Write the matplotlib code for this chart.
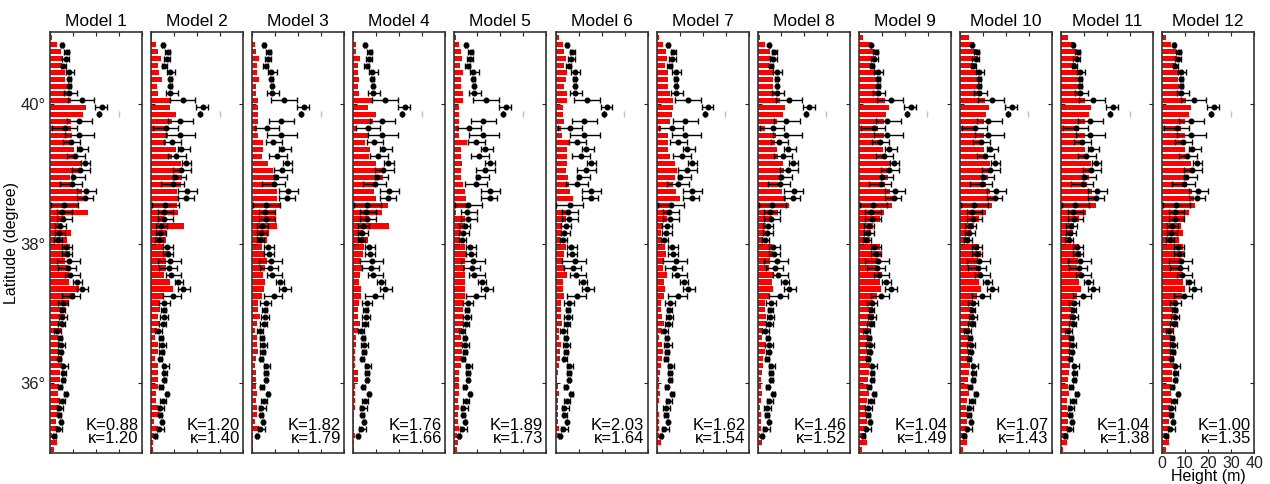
import numpy as np
import matplotlib.pyplot as plt

plt.rcParams['font.family'] = ['Liberation Sans', 'DejaVu Sans']

# latitude bin centres, north to south (0.1 degree bins)
lat = np.round(np.arange(40.95, 35.0, -0.1), 2)

nan = np.nan
# observed runup heights per bin: mean and error bar extents (m)
obs_mean = [nan, 5.1, 7.3, 6.8, 5.8, 8.3, 8.3, 8.4, 8.4, 13.8,
            22.5, 21.1, 12.4, 6.5, 12.4, 9.2, 13.1, 10.9, 15.3, 13.1,
            10.2, 9.5, 15.6, 15.3, 6.1, 5.4, 5.8, 4.4, 3.9, 3.3,
            6.8, 7.3, 8.3, 7.7, 8.7, 11.9, 13.8, 9.5, 5.8, 5.4,
            5.4, 5.1, 3.2, 4.4, 4.7, 4.7, 3.9, 5.8, 5.8, 5.8,
            4.4, 6.8, 5.1, 3.9, 3.9, 4.8, 3.3, 1.9, nan, nan]
obs_lo = [nan, 4.7, 6.1, 5.4, 4.7, 6.8, 7.7, 8.0, 6.3, 8.0,
          19.6, 21.1, 7.3, 1.0, 6.5, 5.8, 11.6, 7.3, 13.5, 9.5,
          9.5, 4.4, 11.6, 11.6, 0.4, 2.9, 2.9, 2.2, 2.2, 1.9,
          5.1, 5.1, 2.9, 3.6, 6.5, 10.2, 11.6, 5.1, 3.6, 4.4,
          3.9, 3.6, 1.9, 3.6, 3.3, 3.6, 3.3, 5.1, 5.1, 5.4,
          3.6, 6.3, 3.9, 2.9, 3.3, 4.4, 2.5, 1.5, nan, nan]
obs_hi = [nan, 5.5, 8.3, 8.3, 6.8, 10.6, 9.0, 9.0, 11.6, 19.3,
          24.7, 21.1, 18.2, 11.6, 19.3, 13.1, 16.7, 15.0, 17.5, 17.5,
          15.0, 14.1, 19.9, 18.5, 12.1, 9.7, 9.7, 6.8, 6.5, 5.1,
          9.5, 9.5, 13.1, 11.2, 13.1, 13.8, 16.7, 13.1, 8.0, 6.5,
          7.3, 6.5, 4.8, 5.1, 6.5, 5.4, 4.8, 7.7, 6.8, 6.5,
          5.1, 7.4, 6.5, 5.8, 4.8, 5.1, 5.4, 2.5, nan, nan]
# single extreme value shown as a grey tick
obs_max_lat = [39.85]
obs_max = [29.8]

models = ['Model %d' % i for i in range(1, 13)]
K_vals = ['0.88', '1.20', '1.82', '1.76', '1.89', '2.03',
          '1.62', '1.46', '1.04', '1.07', '1.04', '1.00']
kappa_vals = ['1.20', '1.40', '1.79', '1.66', '1.73', '1.64',
              '1.54', '1.52', '1.49', '1.43', '1.38', '1.35']

# simulated heights per bin for each model (m)
m1 = [1.0, 2.9, 4.8, 5.8, 5.4, 6.5, 6.5, 8.0, 8.0, 9.2,
      15.6, 14.5, 9.2, 9.2, 9.5, 10.2, 10.5, 10.9, 13.8, 13.8,
      8.7, 10.2, 13.8, 14.5, 12.2, 16.7, 6.5, 5.1, 9.2, 7.3,
      8.7, 8.7, 6.5, 8.0, 8.4, 8.4, 12.4, 11.0, 8.4, 6.5,
      6.5, 5.8, 4.8, 3.6, 4.4, 4.4, 5.1, 5.1, 4.4, 4.4,
      3.9, 3.6, 4.4, 3.9, 3.6, 2.5, 3.6, 1.0, 3.2, 1.9]
m2 = [0.4, 2.3, 2.8, 4.1, 3.1, 3.6, 4.8, 2.6, 3.1, 8.4,
      8.4, 10.9, 9.2, 6.3, 7.4, 6.5, 10.9, 9.2, 12.8, 12.8,
      13.5, 12.8, 11.3, 12.1, 11.2, 11.8, 5.8, 14.3, 6.5, 6.5,
      5.8, 8.0, 6.5, 6.5, 5.8, 8.0, 9.4, 5.4, 3.6, 3.9,
      2.9, 3.9, 2.6, 1.9, 2.9, 2.9, 1.9, 2.9, 2.9, 2.9,
      2.9, 2.2, 2.2, 2.9, 3.6, 1.4, 2.9, 1.4, 1.0, 1.0]
m3 = [0.1, 1.2, 1.5, 3.1, 2.2, 2.2, 3.1, 1.5, 1.6, 2.6,
      2.6, 2.6, 2.6, 1.9, 2.6, 4.5, 4.8, 4.1, 7.0, 9.2,
      11.8, 9.2, 10.6, 10.6, 12.1, 9.9, 9.9, 10.6, 7.4, 6.3,
      4.1, 5.5, 6.3, 5.5, 4.8, 5.5, 5.1, 4.1, 2.6, 2.6,
      3.3, 1.9, 1.2, 1.9, 1.9, 2.6, 1.6, 1.2, 1.5, 1.5,
      1.6, 2.2, 1.5, 1.9, 1.9, 1.2, 3.1, 0.4, 0.4, 0.4]
m4 = [0.4, 1.2, 1.2, 3.1, 1.9, 2.2, 2.6, 2.2, 2.6, 8.0,
      6.5, 9.9, 8.4, 1.6, 6.3, 5.1, 7.4, 7.0, 9.9, 12.1,
      12.8, 9.2, 9.2, 9.9, 15.3, 12.4, 7.0, 15.7, 4.1, 6.5,
      4.8, 4.1, 3.1, 4.1, 3.1, 2.6, 3.3, 3.3, 2.6, 1.9,
      2.2, 3.1, 1.9, 1.2, 1.2, 0.7, 0.7, 0.7, 2.2, 2.2,
      0.7, 0.7, 0.7, 0.7, 0.4, 0.4, 0.4, 0.7, 0.1, 0.1]
m5 = [0.7, 1.9, 2.9, 3.3, 2.5, 3.6, 2.9, 2.9, 3.6, 3.6,
      1.9, 1.9, 2.2, 1.9, 1.9, 5.4, 2.9, 2.9, 3.3, 2.9,
      2.9, 3.6, 4.8, 5.1, 6.3, 0.5, 4.4, 4.4, 2.9, 2.2,
      4.4, 5.1, 4.8, 4.4, 4.4, 4.8, 4.4, 4.4, 3.9, 3.9,
      3.6, 3.6, 3.3, 2.9, 3.3, 3.3, 3.3, 2.9, 1.9, 1.9,
      1.9, 1.9, 1.5, 1.9, 1.5, 1.5, 1.9, 1.0, 1.5, 1.0]
m6 = [1.5, 3.3, 3.9, 4.4, 3.6, 4.8, 4.4, 3.9, 4.8, 4.8,
      3.3, 3.3, 3.6, 2.2, 2.9, 6.5, 4.8, 4.8, 4.8, 4.4,
      5.4, 5.8, 6.3, 7.7, 0.7, 4.8, 4.4, 2.9, 2.5, 1.9,
      4.4, 3.6, 3.3, 3.6, 4.8, 3.3, 3.3, 3.6, 2.2, 2.2,
      2.5, 2.9, 1.5, 1.5, 2.5, 1.9, 1.9, 1.5, 1.0, 0.7,
      1.0, 1.5, 1.0, 1.0, 1.0, 1.0, 1.5, 1.5, 0.4, 0.4]
m7 = [1.2, 2.6, 4.1, 4.5, 3.6, 5.1, 4.8, 4.8, 6.0, 7.0,
      7.0, 6.5, 6.0, 1.9, 4.8, 5.1, 5.1, 6.0, 8.0, 8.9,
      8.0, 7.0, 8.4, 10.3, 5.5, 4.8, 4.5, 2.6, 1.9, 1.9,
      3.6, 4.1, 3.1, 2.6, 4.5, 3.3, 3.6, 3.1, 1.9, 1.9,
      2.2, 3.3, 1.9, 1.2, 2.2, 2.6, 2.2, 1.9, 1.6, 1.2,
      1.2, 1.6, 1.2, 0.7, 1.2, 1.2, 1.2, 1.2, 1.9, 0.4]
m8 = [0.8, 3.0, 5.5, 6.0, 5.0, 7.0, 6.5, 6.5, 7.5, 9.5,
      12.0, 11.0, 8.5, 3.0, 8.0, 7.5, 8.5, 9.0, 11.0, 11.5,
      10.0, 9.0, 10.5, 12.5, 13.5, 9.0, 6.0, 3.5, 3.0, 2.5,
      6.0, 6.5, 5.5, 5.0, 7.0, 6.0, 6.5, 5.0, 3.0, 3.0,
      3.5, 4.0, 2.5, 2.0, 3.0, 3.0, 2.5, 2.5, 2.0, 1.5,
      1.5, 2.0, 1.5, 1.2, 1.5, 1.5, 1.5, 1.2, 2.0, 0.5]
m9 = [2.0, 5.0, 7.0, 7.5, 6.5, 8.0, 8.0, 8.5, 9.5, 11.5,
      13.0, 12.0, 11.0, 8.5, 11.0, 10.0, 10.5, 11.0, 13.5, 14.0,
      12.5, 11.5, 13.5, 15.0, 14.5, 11.0, 9.0, 6.0, 5.5, 5.0,
      9.0, 9.5, 8.5, 8.0, 10.0, 9.0, 9.5, 8.0, 6.0, 6.0,
      6.5, 7.0, 5.0, 4.5, 5.5, 5.5, 5.0, 5.0, 4.5, 4.0,
      4.0, 4.5, 3.5, 3.0, 3.5, 3.5, 3.5, 3.0, 3.5, 1.5]
m10 = [4.0, 6.0, 7.5, 8.0, 7.0, 8.5, 8.0, 8.5, 9.5, 11.0,
       12.5, 11.5, 10.5, 7.5, 10.5, 10.0, 10.5, 11.0, 13.0, 13.5,
       12.0, 11.5, 13.0, 14.5, 14.0, 11.5, 8.5, 6.0, 5.0, 4.5,
       8.5, 9.0, 8.0, 7.5, 9.5, 8.5, 9.0, 7.5, 5.5, 5.5,
       6.0, 6.5, 4.5, 4.0, 5.0, 5.0, 4.5, 4.5, 4.0, 3.5,
       3.5, 4.0, 3.0, 2.5, 3.0, 3.0, 3.0, 2.5, 3.0, 1.2]
m11 = [3.0, 5.5, 7.0, 7.5, 6.5, 8.0, 7.5, 8.0, 9.0, 10.5,
       13.0, 12.0, 10.5, 8.0, 10.5, 10.0, 10.5, 11.0, 13.0, 13.5,
       12.0, 11.5, 13.5, 14.5, 15.0, 11.0, 8.0, 5.5, 5.0, 4.5,
       8.0, 8.5, 7.5, 7.0, 9.0, 8.0, 8.5, 7.0, 5.0, 5.0,
       5.5, 6.0, 4.5, 4.0, 4.5, 4.5, 4.0, 4.0, 3.5, 3.0,
       3.0, 3.5, 2.5, 2.5, 3.0, 3.0, 3.0, 2.5, 2.5, 1.0]
m12 = [1.5, 4.0, 6.0, 6.5, 6.0, 7.0, 7.0, 7.5, 8.5, 10.5,
       12.5, 11.5, 10.0, 8.0, 10.0, 9.5, 10.0, 10.5, 12.5, 13.0,
       11.5, 11.0, 13.0, 14.0, 14.5, 11.5, 10.0, 8.0, 9.0, 7.5,
       9.0, 9.5, 8.0, 8.5, 9.0, 9.0, 10.0, 8.5, 6.5, 6.0,
       6.0, 6.5, 5.0, 4.5, 5.0, 5.0, 5.0, 5.0, 4.5, 4.5,
       4.0, 4.0, 4.0, 3.5, 3.5, 3.0, 3.5, 2.0, 3.0, 1.5]
model_heights = [m1, m2, m3, m4, m5, m6, m7, m8, m9, m10, m11, m12]

W, H = 1270, 484
fig = plt.figure(figsize=(W / 100, H / 100), dpi=100)

mean = np.array(obs_mean)
xerr = [mean - np.array(obs_lo), np.array(obs_hi) - mean]

for k, name in enumerate(models):
    left = 50 + 101.1 * k
    ax = fig.add_axes([left / W, 1 - 453 / H, 92 / W, 421 / H])
    ax.barh(lat, model_heights[k], height=0.075, color='#ff0000', lw=0, zorder=1)
    ax.errorbar(mean, lat, xerr=xerr, fmt='o', color='k', ms=3.3,
                elinewidth=1.0, capsize=2.0, capthick=1.0, zorder=3)
    ax.plot(obs_max, obs_max_lat, '|', color='0.75', ms=5, mew=1, zorder=2)

    ax.set_xlim(0, 40)
    ax.set_ylim(35.0, 41.03)
    ax.set_xticks([0, 10, 20, 30, 40])
    ax.set_yticks([36, 38, 40])
    ax.tick_params(direction='in', length=3, width=0.8, top=True, right=True,
                   labelsize=12, colors='#222222', pad=3)
    ax.tick_params(axis='x', labelsize=11.5, pad=2)
    for s in ax.spines.values():
        s.set_linewidth(1.2)
        s.set_color('#333333')
    if k == 0:
        ax.set_yticklabels(['36°', '38°', '40°'])
        ax.set_ylabel('Latitude (degree)', fontsize=11.5, labelpad=1)
    else:
        ax.set_yticklabels([])
    if k == 11:
        ax.set_xticklabels(['0', '10', '20', '30', '40'])
        ax.set_xlabel('Height (m)', fontsize=11.5, labelpad=-1)
    else:
        ax.set_xticklabels([])

    ax.set_title(name, fontsize=12.5, pad=4)
    ax.text(0.965, 0.055, 'K=' + K_vals[k], transform=ax.transAxes,
            ha='right', va='baseline', fontsize=12)
    ax.text(0.965, 0.024, 'κ=' + kappa_vals[k], transform=ax.transAxes,
            ha='right', va='baseline', fontsize=12)

fig.savefig('out.png', dpi=100)
